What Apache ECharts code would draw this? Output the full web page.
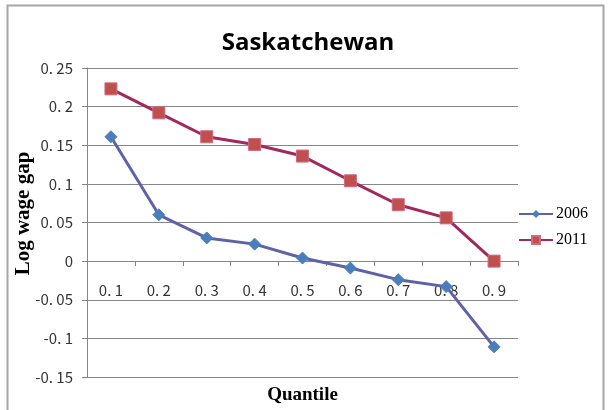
<!DOCTYPE html>
<html>
<head>
<meta charset="utf-8">
<script src="https://cdn.jsdelivr.net/npm/echarts@6/dist/echarts.min.js"></script>
<style>
  html, body { margin: 0; padding: 0; background: #fff; }
  #chart { width: 608px; height: 410px; }
</style>
</head>
<body>
<div id="chart"></div>
<script>
// quantiles on the x axis
const quantiles = ['0.1', '0.2', '0.3', '0.4', '0.5', '0.6', '0.7', '0.8', '0.9'];
// log wage gap
const gap2006 = [0.161, 0.060, 0.030, 0.022, 0.004, -0.009, -0.024, -0.033, -0.111];
const gap2011 = [0.223, 0.192, 0.161, 0.151, 0.136, 0.104, 0.073, 0.056, 0.000];
// y tick labels, from min upwards
const yTickLabels = ['-0. 15', '-0. 1', '-0. 05', '0', '0. 05', '0. 1', '0. 15', '0. 2', '0. 25'];

const chart = echarts.init(document.getElementById('chart'));

const tickFont = '"Noto Sans CJK SC", "DejaVu Sans", sans-serif';
const serifFont = '"Liberation Serif", "DejaVu Serif", serif';

chart.setOption({
  animation: false,
  title: {
    text: 'Saskatchewan',
    left: 303,
    textAlign: 'center',
    top: 26,
    textStyle: { fontFamily: '"Open Sans", "Noto Sans", sans-serif', fontWeight: 'bold', fontSize: 24, color: '#000' }
  },
  legend: {
    orient: 'vertical',
    left: 513,
    top: 201,
    itemGap: 10,
    itemWidth: 34,
    itemHeight: 10,
    textStyle: { fontFamily: serifFont, fontSize: 16, color: '#000', padding: [0, 0, 0, -2] },
    data: ['2006', '2011']
  },
  grid: { left: 87, right: 90, top: 68, bottom: 33, outerBoundsMode: 'none', containLabel: false },
  xAxis: {
    type: 'category',
    data: quantiles,
    // the axis sits on the zero line, as in the picture
    offset: -116,
    name: 'Quantile',
    nameLocation: 'middle',
    nameGap: 125,
    nameMoveOverlap: false,
    nameTextStyle: { fontFamily: serifFont, fontWeight: 'bold', fontSize: 19, color: '#000' },
    axisLine: { show: true, onZero: false, lineStyle: { color: '#868686', width: 1 } },
    axisTick: { show: true, length: 5, lineStyle: { color: '#868686' } },
    axisLabel: {
      margin: 22,
      fontFamily: tickFont,
      fontSize: 15,
      color: '#333',
      formatter: v => v.replace('.', '. ')
    }
  },
  yAxis: {
    type: 'value',
    min: -0.15,
    max: 0.25,
    interval: 0.05,
    name: 'Log wage gap',
    nameLocation: 'middle',
    nameGap: 53,
    nameMoveOverlap: false,
    nameTextStyle: { fontFamily: serifFont, fontWeight: 'bold', fontSize: 21, color: '#000', padding: [0, 0, 0, 18] },
    axisLine: { show: true, lineStyle: { color: '#868686' } },
    axisTick: { show: true, length: 5, lineStyle: { color: '#868686' } },
    splitLine: { lineStyle: { color: '#868686', width: 1 } },
    axisLabel: {
      margin: 14,
      fontFamily: tickFont,
      fontSize: 15,
      color: '#333',
      formatter: (v, i) => yTickLabels[i]
    }
  },
  graphic: [{
    type: 'rect',
    shape: { x: 7.5, y: 5.5, width: 596, height: 420 },
    style: { fill: 'none', stroke: '#a6a6a6', lineWidth: 2 },
    silent: true
  }],
  series: [
    {
      name: '2006',
      type: 'line',
      data: gap2006,
      symbol: 'diamond',
      symbolSize: 12,
      lineStyle: { color: '#5f62a6', width: 3 },
      itemStyle: { color: '#4a7ebb', borderColor: '#4a7ebb' }
    },
    {
      name: '2011',
      type: 'line',
      data: gap2011,
      symbol: 'rect',
      symbolSize: 12,
      lineStyle: { color: '#a2295b', width: 3 },
      itemStyle: { color: '#c0504d', borderColor: '#d06a80', borderWidth: 1 }
    }
  ]
});
</script>
</body>
</html>
